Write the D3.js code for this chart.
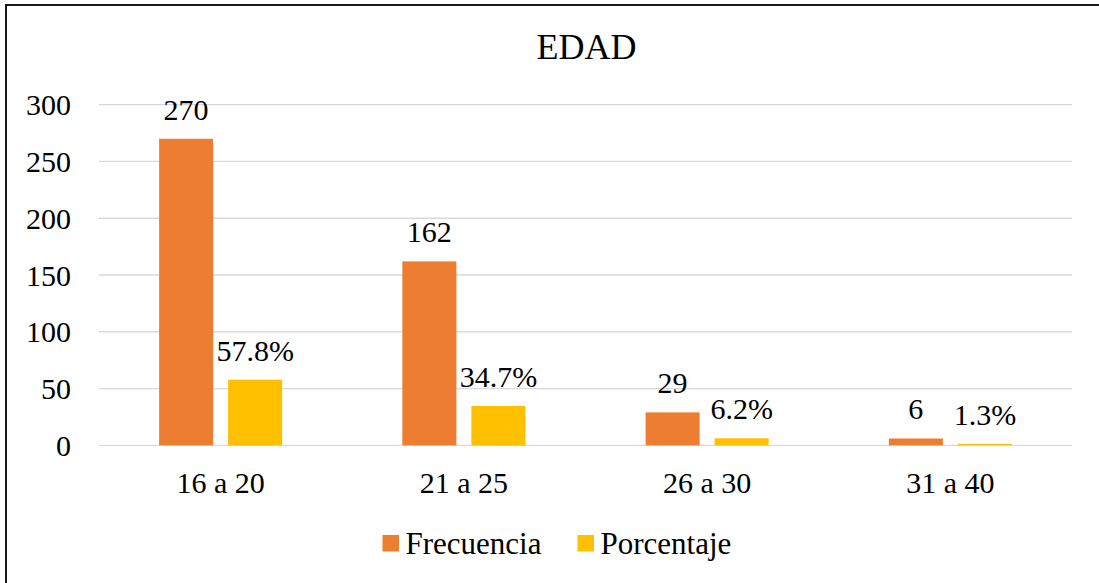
<!DOCTYPE html>
<html>
<head>
<meta charset="utf-8">
<script src="https://cdn.jsdelivr.net/npm/d3@7"></script>
<style>
    body { margin: 0; background: #fff; }
</style>
</head>
<body>
<div id="frame"></div>
<script>
// DATA
const categories = ["16 a 20", "21 a 25", "26 a 30", "31 a 40"];
const seriesNames = ["Frecuencia", "Porcentaje"];
const frecuencia = [270, 162, 29, 6];
const porcentaje = [57.8, 34.7, 6.2, 1.3];
const yTicks = [0, 50, 100, 150, 200, 250, 300];
const chartTitle = "EDAD";

// CHART VARIABLES
const width = 1099;
const height = 583;
const margin = { left: 99, right: 27, top: 104.7, bottom: 137.7 };
const fontSize = 30;
const serif = "'Liberation Serif', Tinos, 'DejaVu Serif', serif";

function colorSeries(name) {
    return name == "Frecuencia" ? "#ED7D31"
        : name == "Porcentaje" ? "#FFC000"
        : "#CCCCCC";
};

// build rows from the arrays
const rows = categories.map((c, i) => ({
    cat: c,
    values: [
        { key: "Frecuencia", value: frecuencia[i], label: String(frecuencia[i]) },
        { key: "Porcentaje", value: porcentaje[i], label: porcentaje[i].toFixed(1) + "%" }
    ]
}));

const svg = d3.select("#frame")
    .append("svg")
        .attr("width", width)
        .attr("height", height)
        .attr("viewBox", [0, 0, width, height])
        .style("font-family", serif);

// outer border
svg.append("rect")
    .attr("x", 6)
    .attr("y", 5)
    .attr("width", width + 20)
    .attr("height", height + 20)
    .attr("fill", "none")
    .attr("stroke", "#000")
    .attr("stroke-width", 1.8);

// scales
const x0 = d3.scaleBand()
    .domain(categories)
    .range([margin.left, width - margin.right])
    .padding(0);

const x1 = d3.scaleBand()
    .domain(seriesNames)
    .range([0, x0.bandwidth()])
    .paddingInner(0.217)
    .paddingOuter(0.871);

const y = d3.scaleLinear()
    .domain([0, 300])
    .range([height - margin.bottom, margin.top]);

// title
svg.append("text")
    .attr("x", (margin.left + width - margin.right) / 2 + 1)
    .attr("y", 59)
    .attr("text-anchor", "middle")
    .style("font-family", serif)
    .style("font-size", "36px")
    .text(chartTitle);

// gridlines
svg.append("g")
        .attr("class", "grid")
    .selectAll("line")
    .data(yTicks)
    .enter()
    .append("line")
        .attr("x1", margin.left)
        .attr("x2", width - margin.right)
        .attr("y1", d => y(d))
        .attr("y2", d => y(d))
        .attr("stroke", "#D9D9D9")
        .attr("stroke-width", 1.3);

// y axis (labels only)
const yAxis = svg.append("g")
    .attr("transform", `translate(${margin.left - 28},0)`)
    .call(d3.axisLeft(y).tickValues(yTicks).tickSize(0).tickPadding(0));
yAxis.attr("font-family", null).attr("font-size", null);
yAxis.select(".domain").remove();
yAxis.selectAll("text")
    .attr("dy", "0.34em")
    .attr("fill", "#000")
    .style("font-family", serif)
    .style("font-size", fontSize + "px");

// x axis (labels only)
const xAxis = svg.append("g")
    .attr("transform", `translate(0,${y(0)})`)
    .call(d3.axisBottom(x0).tickSize(0).tickPadding(0));
xAxis.attr("font-family", null).attr("font-size", null);
xAxis.select(".domain").remove();
xAxis.selectAll("text")
    .attr("y", 48)
    .attr("dy", 0)
    .attr("fill", "#000")
    .style("font-family", serif)
    .style("font-size", fontSize + "px");

// bars
const groups = svg.append("g")
        .attr("class", "g-bars")
    .selectAll("g")
    .data(rows)
    .enter()
    .append("g")
        .attr("transform", d => `translate(${x0(d.cat)},0)`);

groups.selectAll("rect")
    .data(d => d.values)
    .enter()
    .append("rect")
        .attr("x", d => x1(d.key))
        .attr("y", d => y(d.value))
        .attr("width", x1.bandwidth())
        .attr("height", d => y(0) - y(d.value))
        .attr("fill", d => colorSeries(d.key));

// data labels
groups.selectAll("text")
    .data(d => d.values)
    .enter()
    .append("text")
        .attr("x", d => x1(d.key) + x1.bandwidth() / 2)
        .attr("y", d => y(d.value) - 19)
        .attr("text-anchor", "middle")
        .style("font-family", serif)
        .style("font-size", fontSize + "px")
        .text(d => d.label);

// legend
const legendX = [382.5, 577.5];
const legend = svg.append("g")
        .attr("class", "legend")
    .selectAll("g")
    .data(seriesNames)
    .enter()
    .append("g")
        .attr("transform", (d, i) => `translate(${legendX[i]},535)`);

legend.append("rect")
    .attr("width", 16.5)
    .attr("height", 16.5)
    .attr("fill", d => colorSeries(d));

legend.append("text")
    .attr("x", 23)
    .attr("y", 18.5)
    .style("font-family", serif)
    .style("font-size", "31px")
    .text(d => d);
</script>
</body>
</html>
